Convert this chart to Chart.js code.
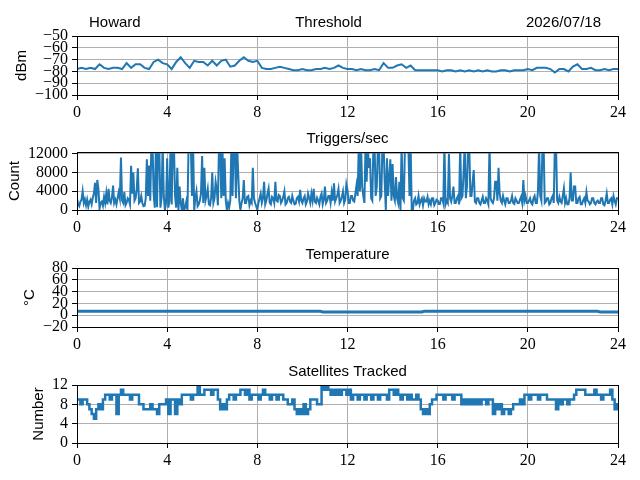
<!DOCTYPE html>
<html>
<head>
<meta charset="utf-8">
<script src="https://cdn.jsdelivr.net/npm/chart.js@4.4.1/dist/chart.umd.min.js"></script>
<style>
  body { margin: 0; background: #fff; }
  #wrap { position: relative; width: 640px; height: 480px; }
  canvas { position: absolute; left: 0; }
</style>
</head>
<body>
<div id="wrap">
  <canvas id="thresh"></canvas>
  <canvas id="trig"></canvas>
  <canvas id="temp"></canvas>
  <canvas id="sats"></canvas>
</div>
<script>
// ---- data (hours 0..24) ----
const HOUR_TICKS = [0, 4, 8, 12, 16, 20, 24];

// threshold, one sample every 0.2 h
const THRESH_DBM = [
  -78,-77,-78,-77,-78,-74,-77,-78,-77,-77,
  -78,-73,-77,-74,-74,-77,-78,-72,-70,-73,
  -74,-78,-72,-68,-73,-77,-71,-72,-72,-75,
  -71,-75,-71,-70,-76,-75,-71,-68,-71,-72,
  -71,-77,-78,-78,-77,-76,-77,-78,-79,-79,
  -78,-79,-79,-78,-78,-77,-78,-77,-75,-77,
  -78,-78,-79,-78,-79,-79,-78,-79,-73,-77,
  -77,-75,-74,-77,-75,-79,-79,-79,-79,-79,
  -79,-80,-79,-79,-80,-79,-80,-79,-80,-79,
  -80,-79,-80,-80,-79,-79,-80,-79,-79,-79,
  -78,-79,-77,-77,-77,-78,-81,-78,-78,-80,
  -76,-74,-78,-78,-77,-79,-79,-78,-79,-78,
  -78
];
const THRESH_TICKS = [-100, -90, -80, -70, -60, -50];

// triggers per second, one sample every 0.05 h (one row per hour)
const TRIGGERS = [
  2500, 1200, 800, 1800, 2200, 4000, 1500, 2300, 1000, 2200, 700, 1800, 2200, 1200, 2600, 3500, 5800, 1500, 6400, 4500,
  300, 1500, 1800, 900, 2800, 1500, 3600, 1200, 4500, 2000, 1500, 2600, 5200, 1500, 2200, 1200, 2500, 3800, 2500, 11200,
  2000, 1500, 3800, 1000, 1500, 2500, 2200, 1200, 9400, 3500, 8000, 2000, 2500, 4500, 8900, 1500, 1800, 3000, 1500, 800,
  900, 2500, 10800, 3000, 9500, 2000, 14000, 14000, 3500, 500, 14000, 600, 14000, 14000, 500, 2500, 14000, 3000, 0, 1500,
  11000, 500, 2000, 14000, 1200, 14000, 14000, 3000, 500, 9000, 0, 5000, 1500, 0, 2500, 0, 500, 1800, 0, 14000,
  14000, 14000, 3000, 14000, 0, 2500, 4000, 800, 1200, 2000, 3500, 11500, 1500, 9000, 2000, 3000, 4500, 1200, 1000, 2500,
  8000, 1500, 2500, 6000, 4500, 1000, 14000, 14000, 2500, 14000, 3000, 11000, 2000, 0, 1500, 500, 2000, 14000, 3000, 14000,
  14000, 2500, 14000, 8000, 2000, 0, 1500, 2500, 6400, 1500, 1500, 2800, 3000, 1000, 2000, 1500, 9000, 2500, 1500, 800,
  0, 1500, 2500, 3500, 1500, 2500, 6000, 1200, 2000, 3500, 4600, 1500, 1200, 2800, 2500, 1500, 6000, 2000, 1800, 3200,
  3000, 1500, 2000, 2800, 4000, 1200, 1500, 2500, 2800, 1800, 1500, 3000, 2000, 1200, 1300, 2500, 2800, 1800, 4300, 2000,
  1500, 2500, 3000, 1200, 1800, 3500, 2500, 1500, 3500, 2000, 4500, 1800, 1500, 2600, 2000, 1200, 2800, 3500, 1200, 2200,
  5000, 1500, 2000, 3000, 3000, 1500, 3800, 2000, 5700, 1800, 2500, 3200, 4500, 1500, 2000, 2800, 4000, 1500, 2200, 5500,
  4300, 1500, 1500, 3000, 3000, 2000, 1800, 3500, 5300, 3000, 14000, 4000, 14000, 5000, 3000, 1500, 14000, 6000, 14000, 9000,
  11000, 2500, 2000, 14000, 14000, 3000, 5000, 14000, 14000, 2500, 3000, 14000, 14000, 6000, 0, 11000, 3000, 7000, 10800, 2000,
  9800, 3000, 2000, 7000, 2500, 1500, 6000, 0, 14000, 2500, 2000, 14000, 14000, 14000, 14000, 3000, 14000, 0, 0, 2000,
  2500, 1200, 1500, 3000, 1200, 2000, 2500, 1000, 2500, 1800, 1800, 2800, 1200, 2000, 1200, 2500, 2500, 1000, 1500, 2200,
  2000, 1300, 1300, 2500, 2500, 1500, 14000, 1200, 2000, 1500, 12000, 2500, 1800, 3000, 5000, 1500, 1500, 2500, 3000, 1200,
  14000, 2500, 3000, 8000, 14000, 2500, 5000, 14000, 14000, 3000, 3000, 6000, 8500, 1800, 1500, 2500, 2500, 1500, 1200, 2000,
  2800, 1500, 1500, 2500, 2000, 1200, 14000, 2500, 1800, 1500, 2500, 6000, 6000, 2000, 9000, 3500, 2000, 1500, 3000, 2000,
  1200, 2500, 2500, 1500, 1500, 2000, 3000, 1500, 1300, 2500, 2000, 1500, 1500, 2200, 2800, 1500, 6400, 2000, 3000, 1500,
  1500, 2000, 2500, 1500, 1200, 2500, 3000, 1500, 1500, 4000, 14000, 3000, 2000, 14000, 14000, 1500, 1800, 2500, 2500, 1200,
  1500, 2500, 3000, 1500, 14000, 14000, 2000, 1500, 2800, 1800, 1500, 3000, 4600, 1500, 2500, 1200, 1200, 2500, 8000, 2000,
  2000, 5000, 5000, 1500, 1500, 2500, 2800, 1200, 1200, 2000, 2500, 1500, 3800, 2000, 1800, 1200, 1500, 2500, 2500, 1500,
  1200, 1800, 2000, 1500, 1500, 2500, 2500, 1200, 1000, 2000, 3500, 1500, 1500, 2200, 2500, 1200, 3000, 2000, 1200, 2500,
  2500
];
const TRIG_TICKS = [0, 4000, 8000, 12000];

// temperature, sparse samples
const TEMP_HOURS = [0, 2, 4, 6, 8, 10, 10.8, 10.9, 12, 14, 15.3, 15.4, 18, 20, 22, 23.1, 23.2, 24];
const TEMP_C     = [6.5, 6.5, 6.5, 6.5, 6.5, 6.5, 6.5, 5.5, 5.5, 5.5, 5.5, 6.5, 6.5, 6.5, 6.5, 6.5, 5.5, 5.5];
const TEMP_TICKS = [-20, 0, 20, 40, 60, 80];

// satellites tracked, one sample every 0.1 h
const SATS = [
  9, 9, 8, 9, 9, 8, 7, 6, 5, 7,
  8, 7, 9, 10, 10, 9, 10, 10, 6, 10,
  11, 10, 10, 10, 9, 10, 10, 10, 8, 8,
  7, 7, 7, 8, 7, 7, 6, 8, 8, 8,
  9, 6, 9, 9, 6, 9, 8, 10, 10, 10,
  10, 9, 10, 10, 12, 10, 10, 11, 11, 11,
  10, 11, 11, 9, 7, 8, 7, 9, 10, 10,
  9, 10, 10, 11, 11, 10, 11, 9, 10, 10,
  10, 9, 10, 11, 10, 10, 9, 10, 10, 9,
  10, 10, 9, 9, 8, 8, 9, 7, 6, 7,
  6, 8, 6, 7, 9, 9, 9, 8, 8, 12,
  11, 12, 11, 10, 11, 10, 11, 10, 11, 11,
  10, 11, 9, 10, 10, 9, 10, 10, 9, 10,
  10, 9, 10, 10, 9, 10, 10, 10, 9, 11,
  11, 10, 11, 10, 9, 10, 10, 9, 10, 9,
  9, 10, 9, 7, 6, 7, 6, 8, 9, 9,
  10, 10, 10, 9, 10, 10, 10, 9, 10, 10,
  10, 8, 9, 8, 9, 8, 9, 8, 9, 8,
  9, 9, 8, 9, 9, 6, 8, 7, 8, 6,
  7, 7, 6, 7, 8, 8, 8, 9, 8, 10,
  10, 9, 10, 10, 10, 9, 10, 10, 10, 9,
  9, 9, 9, 7, 9, 8, 9, 9, 8, 9,
  9, 10, 11, 11, 11, 11, 10, 10, 10, 10,
  11, 10, 10, 9, 10, 10, 10, 11, 9, 7,
  8
];
const SAT_TICKS = [0, 4, 8, 12];

// ---- drawing ----
const BLUE = '#1f77b4';
const TICK_FONT = { family: 'Liberation Serif', size: 16 };
const TITLE_FONT = '15px "Liberation Sans"';
const fmt = v => String(v).replace('-', '\u2212');

// box around plot, titles above it, y label beside tick labels
const frame = {
  id: 'frame',
  afterDraw(chart, args, opts) {
    const { ctx, chartArea: a } = chart;
    ctx.save();
    ctx.strokeStyle = '#000';
    ctx.lineWidth = 1;
    ctx.strokeRect(Math.round(a.left) + 0.5, Math.round(a.top) + 0.5,
                   Math.round(a.right - a.left), Math.round(a.bottom - a.top));

    ctx.fillStyle = '#000';
    ctx.font = TITLE_FONT;
    ctx.textBaseline = 'alphabetic';
    const ty = a.top - 9;
    ctx.textAlign = 'center';
    ctx.fillText(opts.title, (a.left + a.right) / 2 + (opts.shift || 0), ty);
    if (opts.left) {
      ctx.textAlign = 'left';
      ctx.fillText(opts.left, a.left + 12, ty);
    }
    if (opts.right) {
      ctx.textAlign = 'right';
      ctx.fillText(opts.right, a.right - 17, ty);
    }

    const ys = chart.scales.y;
    ctx.font = TICK_FONT.size + 'px "' + TICK_FONT.family + '"';
    let w = 0;
    ys.ticks.forEach(t => { w = Math.max(w, ctx.measureText(fmt(t.value)).width); });
    const lx = a.left - 5 - 4 - w - 6;
    ctx.font = TITLE_FONT;
    ctx.translate(lx, (a.top + a.bottom) / 2);
    ctx.rotate(-Math.PI / 2);
    ctx.textAlign = 'center';
    ctx.textBaseline = 'bottom';
    ctx.fillText(opts.ylabel, 0, 0);
    ctx.restore();
  }
};

function panel(id, top, plotH, points, yMin, yMax, yTicks, line, labels) {
  const cv = document.getElementById(id);
  cv.width = 640;
  cv.height = plotH + 60;
  cv.style.top = (top - 30) + 'px';
  new Chart(cv, {
    type: 'line',
    data: {
      datasets: [Object.assign({
        data: points,
        borderColor: BLUE,
        pointRadius: 0,
        tension: 0,
        fill: false
      }, line)]
    },
    options: {
      responsive: false,
      animation: false,
      events: [],
      layout: { padding: { top: 30, right: 22, left: 0, bottom: 0 } },
      plugins: {
        legend: { display: false },
        tooltip: { enabled: false },
        frame: labels
      },
      scales: {
        x: {
          type: 'linear',
          min: 0, max: 24,
          afterBuildTicks: s => { s.ticks = HOUR_TICKS.map(v => ({ value: v })); },
          afterFit: s => { s.height = 30; },
          border: { display: false },
          grid: { color: '#b0b0b0', lineWidth: 1, tickLength: 5, tickColor: '#000' },
          ticks: { font: TICK_FONT, color: '#000', padding: 3, maxRotation: 0, autoSkip: false,
                   callback: v => fmt(v) }
        },
        y: {
          type: 'linear',
          min: yMin, max: yMax,
          afterBuildTicks: s => { s.ticks = yTicks.map(v => ({ value: v })); },
          afterFit: s => { s.width = 77; },
          border: { display: false },
          grid: { color: '#b0b0b0', lineWidth: 1, tickLength: 5, tickColor: '#000' },
          ticks: { font: TICK_FONT, color: '#000', padding: 4, autoSkip: false,
                   callback: v => fmt(v) }
        }
      }
    },
    plugins: [frame]
  });
}

panel('thresh', 36, 59, THRESH_DBM.map((v, i) => ({ x: i * 0.2, y: v })),
      -100, -50, THRESH_TICKS, { borderWidth: 2 },
      { title: 'Threshold', shift: -19, left: 'Howard', right: '2026/07/18', ylabel: 'dBm' });

panel('trig', 152, 58, TRIGGERS.map((v, i) => ({ x: i * 0.05, y: v })),
      0, 12360, TRIG_TICKS, { borderWidth: 2 },
      { title: 'Triggers/sec', ylabel: 'Count' });

panel('temp', 268, 59, TEMP_HOURS.map((h, i) => ({ x: h, y: TEMP_C[i] })),
      -20, 80, TEMP_TICKS, { borderWidth: 3 },
      { title: 'Temperature', ylabel: '\u00b0C' });

panel('sats', 385, 58, SATS.map((v, i) => ({ x: i * 0.1, y: v })),
      0, 12, SAT_TICKS, { borderWidth: 2.5, stepped: 'middle' },
      { title: 'Satellites Tracked', ylabel: 'Number' });
</script>
</body>
</html>
